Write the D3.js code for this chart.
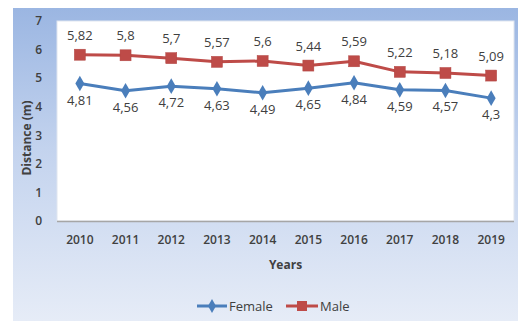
<!DOCTYPE html>
<html><head><meta charset="utf-8">
<script src="https://cdn.jsdelivr.net/npm/d3@7"></script>
<style>html,body{margin:0;padding:0;background:#fff;}svg{display:block;font-family:"Open Sans",sans-serif;}</style>
</head><body>
<svg id="c" width="518" height="321"></svg>
<script>
const years = ["2010","2011","2012","2013","2014","2015","2016","2017","2018","2019"];
const female = [4.81,4.56,4.72,4.63,4.49,4.65,4.84,4.59,4.57,4.3];
const male = [5.82,5.8,5.7,5.57,5.6,5.44,5.59,5.22,5.18,5.09];
const yTicks = [0,1,2,3,4,5,6,7];
const seriesNames = ["Female","Male"];
const colors = {Female:"#4a7ebb", Male:"#be4b48"};

const svg = d3.select("#c");
const defs = svg.append("defs");
const g = defs.append("linearGradient").attr("id","bg").attr("x1",0).attr("y1",0).attr("x2",0).attr("y2",1);
g.append("stop").attr("offset","0%").attr("stop-color","#9bb6e2");
g.append("stop").attr("offset","45%").attr("stop-color","#c3d3ee");
g.append("stop").attr("offset","100%").attr("stop-color","#e6ecf7");
svg.append("rect").attr("x",13).attr("y",8).attr("width",505).attr("height",313).attr("fill","url(#bg)");

const L=57,R=514,T=21,B=221;
svg.append("rect").attr("x",L).attr("y",T).attr("width",R-L).attr("height",B-T).attr("fill","#fff").attr("stroke","#dfe5ef").attr("stroke-width",1);

const x = d3.scaleBand().domain(years).range([L,R]);
const y = d3.scaleLinear().domain([0,7]).range([B,T]);

svg.append("line").attr("x1",L).attr("x2",R).attr("y1",B+0.5).attr("y2",B+0.5).attr("stroke","#a6a6a6").attr("stroke-width",1.5);

const yAxis = svg.append("g").attr("transform",`translate(${L},0)`).call(d3.axisLeft(y).tickValues(yTicks).tickFormat(d3.format("d")).tickSize(0).tickPadding(15));
yAxis.select(".domain").remove();
yAxis.selectAll("text").attr("font-size",12).attr("font-weight",600).attr("fill","#404040").attr("font-family","Open Sans");

const xAxis = svg.append("g").attr("transform",`translate(0,${B})`).call(d3.axisBottom(x).tickSize(0).tickPadding(14));
xAxis.select(".domain").remove();
xAxis.selectAll("text").attr("font-size",12).attr("font-weight",600).attr("fill","#404040").attr("font-family","Open Sans");

svg.append("text").attr("x",(L+R)/2).attr("y",269).attr("text-anchor","middle").attr("font-size",12).attr("font-weight",700).attr("fill","#404040").text("Years");
svg.append("text").attr("transform","translate(31,138) rotate(-90)").attr("text-anchor","middle").attr("font-size",12).attr("font-weight",700).attr("fill","#404040").text("Distance (m)");

const cx = d => x(d)+x.bandwidth()/2;
const line = d3.line().x((d,i)=>cx(years[i])).y(d=>y(d));
const fmt = v => String(v).replace(".",",");

function drawSeries(name, vals, marker, labelDy){
  const c = colors[name];
  svg.append("path").datum(vals).attr("d",line).attr("fill","none").attr("stroke",c).attr("stroke-width",3).attr("stroke-linejoin","round");
  const gs = svg.append("g");
  vals.forEach((v,i)=>{
    const px=cx(years[i]), py=y(v);
    if(marker==="square"){
      gs.append("rect").attr("x",px-5.5).attr("y",py-5.5).attr("width",11).attr("height",11).attr("fill",c).attr("stroke","#b24542").attr("stroke-width",0.5);
    } else {
      gs.append("path").attr("d",d3.symbol().type(d3.symbolDiamond).size(70)()).attr("transform",`translate(${px},${py})`).attr("fill",c);
    }
    gs.append("text").attr("x",px).attr("y",py+labelDy).attr("text-anchor","middle").attr("font-size",13).attr("fill","#404040").text(fmt(v));
  });
}
drawSeries("Male", male, "square", -15);
drawSeries("Female", female, "diamond", 21);

// legend
const lg = svg.append("g");
const legendItems = [{name:"Female",x1:197,x2:227,marker:"diamond"},{name:"Male",x1:286,x2:318,marker:"square"}];
legendItems.forEach(it=>{
  const c=colors[it.name], my=306, mx=(it.x1+it.x2)/2;
  lg.append("line").attr("x1",it.x1).attr("x2",it.x2).attr("y1",my).attr("y2",my).attr("stroke",c).attr("stroke-width",3);
  if(it.marker==="square") lg.append("rect").attr("x",mx-5).attr("y",my-5).attr("width",10).attr("height",10).attr("fill",c);
  else lg.append("path").attr("d",d3.symbol().type(d3.symbolDiamond).size(55)()).attr("transform",`translate(${mx},${my})`).attr("fill",c);
  lg.append("text").attr("x",it.x2+2).attr("y",my+4.5).attr("font-size",13).attr("fill","#404040").text(it.name);
});
</script>
</body></html>
